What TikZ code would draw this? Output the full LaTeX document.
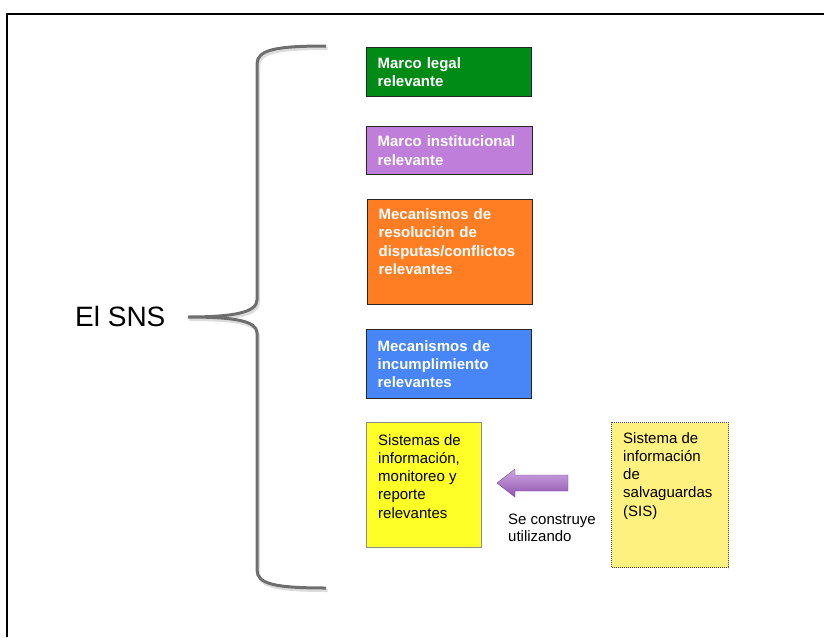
\documentclass[tikz,border=0pt]{standalone}
\usepackage{fontspec}
\setmainfont{Liberation Sans}

\definecolor{legalgreen}{RGB}{0,138,22}
\definecolor{instpurple}{RGB}{190,126,218}
\definecolor{dispuorange}{RGB}{255,125,35}
\definecolor{incumblue}{RGB}{72,134,247}
\definecolor{infoyellow}{RGB}{255,255,40}
\definecolor{sisyellow}{RGB}{255,241,128}
\definecolor{bracegray}{RGB}{110,110,110}
\definecolor{arrowpurple}{RGB}{168,98,205}

\newcommand\boxfont{\fontsize{15}{18.3}\selectfont}

\begin{document}
\begin{tikzpicture}[x=1pt,y=-1pt]

    \tikzset{
      box/.style={
        draw=black!85,
        line width=1.2pt,
        anchor=north west,
        inner xsep=11pt,
        inner ysep=0pt,
        align=left,
        text=white,
        font=\boxfont\bfseries,
      },
      plain/.style={
        inner sep=0pt,
        align=left,
        font=\boxfont,
      },
    }
    \useasboundingbox (0,0) rectangle (824,637);
	\draw[line width=2pt] (7,637)--(7,14)--(824,14);
	% left side
	\node[plain, anchor=base west, font=\fontsize{28}{34}\selectfont] (sns) at (75,326) {El SNS};
	\coordinate (tip) at (188,317);
	\draw[bracegray!40, line width=3pt, opacity=0.6, shift={(1.5,2.5)}] (326,46) .. controls (275,46) and (257,50) .. (257,64) -- (257,300) .. controls (257,312) and (235,317) .. (188,317) .. controls (235,317) and (257,321) .. (257,333) -- (257,570) .. controls (257,584) and (275,588) .. (326,588);
	\draw[bracegray, line width=3pt] (326,46) .. controls (275,46) and (257,50) .. (257,64) -- (257,300) .. controls (257,312) and (235,317) .. (tip) .. controls (235,317) and (257,321) .. (257,333) -- (257,570) .. controls (257,584) and (275,588) .. (326,588);
	% boxes
	\node[box, fill=legalgreen, minimum width=165pt, text width=143pt, minimum height=49pt] (legal) at (366,47) {Marco legal\\relevante};
	\node[box, fill=instpurple, minimum width=166pt, text width=144pt, minimum height=48pt] (inst) at (366,126) {Marco institucional\\relevante};
	\node[box, fill=dispuorange, minimum width=165pt, text width=143pt, minimum height=105pt, text depth=76pt] (dispu) at (367,199) {Mecanismos de\\resoluci\'on de\\disputas/conflictos\\relevantes};
	\node[box, fill=incumblue, minimum width=165pt, text width=143pt, minimum height=69pt] (incum) at (366,329) {Mecanismos de\\incumplimiento\\relevantes};
	\node[draw=black!45, line width=1pt, fill=infoyellow, anchor=north west, minimum width=115pt, minimum height=125pt] (info) at (366,422) {};
	\node[plain, anchor=north west] (infotxt) at (378,434) {Sistemas de\\informaci\'on,\\monitoreo y\\reporte\\relevantes};
	\node[draw=black!75, densely dotted, line width=1pt, fill=sisyellow, anchor=north west, minimum width=117pt, minimum height=145pt] (sis) at (611,422) {};
	\node[plain, anchor=north west] (sistxt) at (623,432) {Sistema de\\informaci\'on\\de\\salvaguardas\\(SIS)};
	% arrow
	\shade[top color=arrowpurple!55!white, bottom color=arrowpurple!85!black, draw=arrowpurple!70!black, line width=0.4pt]
	  (497,483) -- (515,469) -- (515,475) -- (568,475) -- (568,491) -- (515,491) -- (515,497) -- cycle;
	\node[plain, anchor=base west, font=\fontsize{15}{17}\selectfont] (uses) at (508,541) {Se construye\\utilizando};

\end{tikzpicture}
\end{document}
